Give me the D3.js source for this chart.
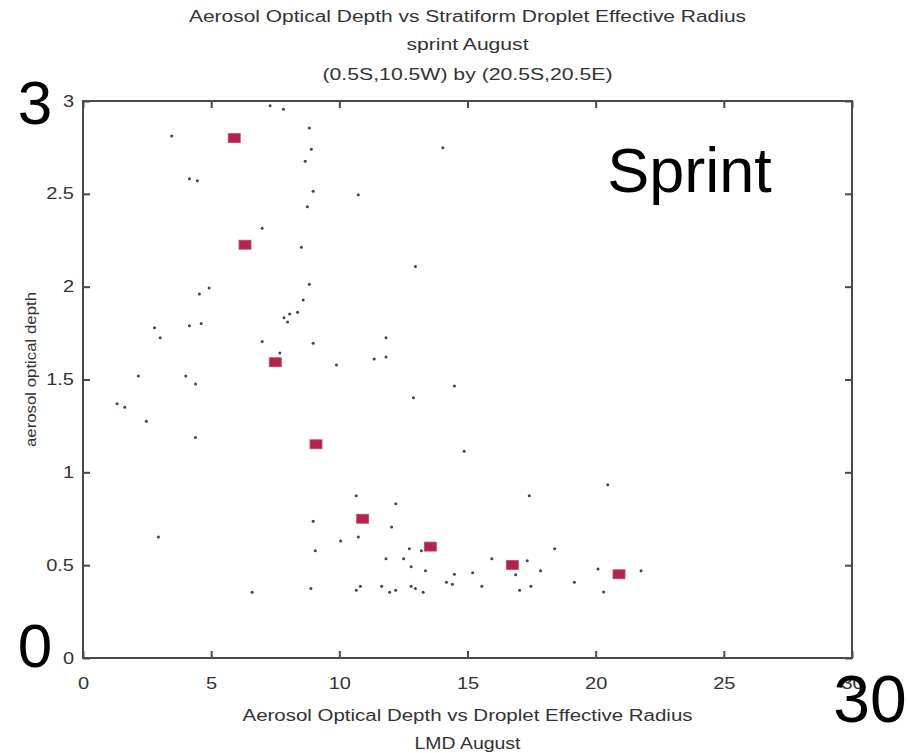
<!DOCTYPE html>
<html>
<head>
<meta charset="utf-8">
<script src="https://cdn.jsdelivr.net/npm/d3@7"></script>
<style>
  body { margin: 0; background: #fff; }
  svg { display: block; }
</style>
</head>
<body>
<svg id="chart" width="908" height="753"></svg>
<script>
// ---- text ----
const titleLines = [
  "Aerosol Optical Depth vs Stratiform Droplet Effective Radius",
  "sprint August",
  "(0.5S,10.5W) by (20.5S,20.5E)"
];
const xLabelLines = [
  "Aerosol Optical Depth vs Droplet Effective Radius",
  "LMD August"
];
const yLabel = "aerosol optical depth";
const seriesLabel = "Sprint";

// ---- axes ----
const xTicks = [0, 5, 10, 15, 20, 25, 30];
const yTicks = [0, 0.5, 1, 1.5, 2, 2.5, 3];
const yTickLabels = ["0", "0.5", "1", "1.5", "2", "2.5", "3"];
const xTickLabels = ["0", "5", "10", "15", "20", "25", "30"];

// ---- LMD scatter (effective radius, aerosol optical depth) ----
const lmdRadius = [
  7.30, 7.82, 3.46, 8.83, 8.91, 8.67, 4.15, 4.46, 8.98, 8.75,
  6.99, 8.52, 8.83, 4.92, 4.54, 8.59, 7.84, 8.06, 8.37, 7.98,
  2.79, 4.15, 4.61, 3.01, 6.99, 8.98, 7.68, 9.89, 2.16, 4.01,
  4.39, 1.33, 1.63, 2.47, 4.39, 2.94, 8.98, 9.06, 10.05, 6.60,
  8.89, 14.04, 10.74, 12.97, 11.82, 11.36, 11.82, 14.49, 12.89, 14.87,
  10.66, 12.20, 12.04, 10.74, 12.73, 13.20, 11.82, 12.51, 12.80, 13.36,
  14.49, 15.20, 15.95, 17.33, 16.88, 17.85, 18.40, 17.41, 19.17, 10.66,
  10.82, 11.65, 11.96, 12.20, 12.80, 12.97, 13.27, 14.18, 14.41, 15.56,
  17.03, 17.47, 20.47, 20.09, 21.77, 20.31
];
const lmdAOD = [
  2.975, 2.955, 2.811, 2.854, 2.740, 2.675, 2.581, 2.571, 2.514, 2.431,
  2.314, 2.212, 2.013, 1.993, 1.961, 1.928, 1.833, 1.853, 1.862, 1.810,
  1.779, 1.790, 1.801, 1.725, 1.704, 1.695, 1.643, 1.578, 1.519, 1.519,
  1.476, 1.370, 1.350, 1.275, 1.187, 0.652, 0.736, 0.578, 0.630, 0.354,
  0.375, 2.748, 2.495, 2.108, 1.725, 1.610, 1.621, 1.465, 1.402, 1.113,
  0.874, 0.831, 0.706, 0.652, 0.589, 0.578, 0.535, 0.535, 0.492, 0.470,
  0.451, 0.459, 0.535, 0.524, 0.449, 0.470, 0.589, 0.874, 0.408, 0.365,
  0.386, 0.386, 0.354, 0.365, 0.386, 0.375, 0.354, 0.408, 0.397, 0.386,
  0.365, 0.386, 0.933, 0.479, 0.470, 0.355
];

// ---- Sprint bin means ----
const sprintRadius = [5.90, 6.32, 7.50, 9.09, 10.91, 13.55, 16.75, 20.91];
const sprintAOD    = [2.80, 2.226, 1.593, 1.151, 0.750, 0.600, 0.501, 0.451];

// ---- layout ----
const svg = d3.select("#chart");
const plot = { left: 83, right: 852, top: 101, bottom: 658 };
const x = d3.scaleLinear().domain([0, 30]).range([plot.left, plot.right]);
const y = d3.scaleLinear().domain([0, 3]).range([plot.bottom, plot.top]);

const axisColor = "#4a4a4a";
const textColor = "#333";
const smallFont = "'Liberation Sans', Arial, sans-serif";
const textStretch = 1.25;

function stretch(sel, k) {
  sel.each(function () {
    const w = this.getComputedTextLength();
    d3.select(this).attr("textLength", w * k).attr("lengthAdjust", "spacingAndGlyphs");
  });
}

// frame
svg.append("rect")
  .attr("x", plot.left).attr("y", plot.top)
  .attr("width", plot.right - plot.left).attr("height", plot.bottom - plot.top)
  .attr("fill", "none").attr("stroke", axisColor).attr("stroke-width", 2);

function styleAxis(g) {
  g.select(".domain").remove();
  g.selectAll(".tick line").attr("stroke", axisColor).attr("stroke-width", 2);
  g.selectAll(".tick text").attr("fill", textColor)
    .style("font-family", smallFont).style("font-size", "16px");
}

// bottom axis (ticks point inward)
const gx = svg.append("g").attr("transform", `translate(0,${plot.bottom})`)
  .call(d3.axisBottom(x).tickValues(xTicks).tickFormat((d, i) => xTickLabels[i])
    .tickSizeInner(-7).tickSizeOuter(0).tickPadding(20));
styleAxis(gx);
stretch(gx.selectAll(".tick text"), textStretch);

// top axis, ticks only
const gxt = svg.append("g").attr("transform", `translate(0,${plot.top})`)
  .call(d3.axisTop(x).tickValues(xTicks).tickFormat("").tickSizeInner(-7).tickSizeOuter(0));
styleAxis(gxt);

// left axis
const gy = svg.append("g").attr("transform", `translate(${plot.left},0)`)
  .call(d3.axisLeft(y).tickValues(yTicks).tickFormat((d, i) => yTickLabels[i])
    .tickSizeInner(-7).tickSizeOuter(0).tickPadding(9));
styleAxis(gy);
stretch(gy.selectAll(".tick text"), textStretch);

// right axis, ticks only
const gyr = svg.append("g").attr("transform", `translate(${plot.right},0)`)
  .call(d3.axisRight(y).tickValues(yTicks).tickFormat("").tickSizeInner(-7).tickSizeOuter(0));
styleAxis(gyr);

// titles
const cx = (plot.left + plot.right) / 2;
const titleWidths = [557, 122, 290];
const titleBase = [22, 50, 80];
titleLines.forEach((t, i) => {
  svg.append("text").attr("x", cx).attr("y", titleBase[i])
    .attr("text-anchor", "middle").attr("fill", textColor)
    .style("font-family", smallFont).style("font-size", "16px")
    .attr("textLength", titleWidths[i]).attr("lengthAdjust", "spacingAndGlyphs")
    .text(t);
});

const xLabelWidths = [450, 106];
const xLabelBase = [721, 749];
xLabelLines.forEach((t, i) => {
  svg.append("text").attr("x", cx).attr("y", xLabelBase[i])
    .attr("text-anchor", "middle").attr("fill", textColor)
    .style("font-family", smallFont).style("font-size", "16px")
    .attr("textLength", xLabelWidths[i]).attr("lengthAdjust", "spacingAndGlyphs")
    .text(t);
});

svg.append("text")
  .attr("transform", `translate(36,${(plot.top + plot.bottom) / 2 - 10}) rotate(-90)`)
  .attr("text-anchor", "middle").attr("fill", textColor)
  .style("font-family", smallFont).style("font-size", "14px")
  .attr("textLength", 155).attr("lengthAdjust", "spacingAndGlyphs")
  .text(yLabel);

// LMD points
svg.append("g").selectAll("circle")
  .data(lmdRadius.map((r, i) => [r, lmdAOD[i]]))
  .join("circle")
  .attr("cx", d => x(d[0])).attr("cy", d => y(d[1]))
  .attr("r", 1.5).attr("fill", "#3b4066");

// Sprint means
const bw = 12, bh = 9;
svg.append("g").selectAll("rect")
  .data(sprintRadius.map((r, i) => [r, sprintAOD[i]]))
  .join("rect")
  .attr("x", d => x(d[0]) - bw / 2).attr("y", d => y(d[1]) - bh / 2)
  .attr("width", bw).attr("height", bh)
  .attr("fill", "#b3234b").attr("stroke", "#c4486c").attr("stroke-width", 0.8);

// large annotations
const bigFont = "'Liberation Sans', Arial, sans-serif";
function big(txt, px, py, anchor, size) {
  svg.append("text").attr("x", px).attr("y", py).attr("text-anchor", anchor)
    .attr("fill", "#000").style("font-family", bigFont).style("font-size", size + "px")
    .text(txt);
}
big("3", 35, y(3) + 23, "middle", 62);
big("0", 35, y(0) + 9, "middle", 62);
big("30", x(30) + 18, 722, "middle", 66);
big(seriesLabel, x(20.45), 192, "start", 63);
</script>
</body>
</html>
